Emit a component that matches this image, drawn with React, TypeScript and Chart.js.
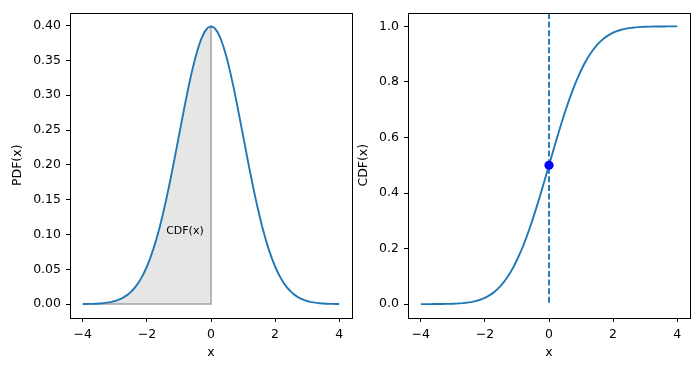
import React, { useEffect, useRef } from "react";
import { Chart, registerables } from "chart.js";

Chart.register(...registerables);

// ---- data ----
const xValues = [
  -4.0, -3.9, -3.8, -3.7, -3.6, -3.5, -3.4, -3.3, -3.2, -3.1, -3.0, -2.9, -2.8, -2.7, -2.6, -2.5, -2.4, -2.3, -2.2, -2.1,
  -2.0, -1.9, -1.8, -1.7, -1.6, -1.5, -1.4, -1.3, -1.2, -1.1, -1.0, -0.9, -0.8, -0.7, -0.6, -0.5, -0.4, -0.3, -0.2, -0.1,
  0.0, 0.1, 0.2, 0.3, 0.4, 0.5, 0.6, 0.7, 0.8, 0.9, 1.0, 1.1, 1.2, 1.3, 1.4, 1.5, 1.6, 1.7, 1.8, 1.9,
  2.0, 2.1, 2.2, 2.3, 2.4, 2.5, 2.6, 2.7, 2.8, 2.9, 3.0, 3.1, 3.2, 3.3, 3.4, 3.5, 3.6, 3.7, 3.8, 3.9, 4.0,
];
const pdfValues = [
  0.0001, 0.0002, 0.0003, 0.0004, 0.0006, 0.0009, 0.0012, 0.0017, 0.0024, 0.0033, 0.0044, 0.006, 0.0079, 0.0104, 0.0136,
  0.0175, 0.0224, 0.0283, 0.0355, 0.044, 0.054, 0.0656, 0.079, 0.094, 0.1109, 0.1295, 0.1497, 0.1714, 0.1942, 0.2179,
  0.242, 0.2661, 0.2897, 0.3123, 0.3332, 0.3521, 0.3683, 0.3814, 0.391, 0.397, 0.3989, 0.397, 0.391, 0.3814, 0.3683,
  0.3521, 0.3332, 0.3123, 0.2897, 0.2661, 0.242, 0.2179, 0.1942, 0.1714, 0.1497, 0.1295, 0.1109, 0.094, 0.079, 0.0656,
  0.054, 0.044, 0.0355, 0.0283, 0.0224, 0.0175, 0.0136, 0.0104, 0.0079, 0.006, 0.0044, 0.0033, 0.0024, 0.0017, 0.0012,
  0.0009, 0.0006, 0.0004, 0.0003, 0.0002, 0.0001,
];
const cdfValues = [
  0.00003, 0.00005, 0.00007, 0.00011, 0.00016, 0.00023, 0.00034, 0.00048, 0.00069, 0.00097, 0.00135, 0.00187, 0.00256,
  0.00347, 0.00466, 0.00621, 0.0082, 0.01072, 0.0139, 0.01786, 0.02275, 0.02872, 0.03593, 0.04457, 0.0548, 0.06681,
  0.08076, 0.0968, 0.11507, 0.13567, 0.15866, 0.18406, 0.21186, 0.24196, 0.27425, 0.30854, 0.34458, 0.38209, 0.42074,
  0.46017, 0.5, 0.53983, 0.57926, 0.61791, 0.65542, 0.69146, 0.72575, 0.75804, 0.78814, 0.81594, 0.84134, 0.86433,
  0.88493, 0.9032, 0.91924, 0.93319, 0.9452, 0.95543, 0.96407, 0.97128, 0.97725, 0.98214, 0.9861, 0.98928, 0.9918,
  0.99379, 0.99534, 0.99653, 0.99744, 0.99813, 0.99865, 0.99903, 0.99931, 0.99952, 0.99966, 0.99977, 0.99984, 0.99989,
  0.99993, 0.99995, 0.99997,
];
const shadeEnd = 0; // shaded area from -4 to this x
const edgeX = [-4, 0, 0];
const edgeY = [0, 0, 0.3989];
const markerX = [0];
const markerY = [0.5];
const vlineX = [0, 0];
const vlineY = [0.005, 1.05];
const xTicks = [-4, -2, 0, 2, 4];
const pdfTicks = [0, 0.05, 0.1, 0.15, 0.2, 0.25, 0.3, 0.35, 0.4];
const cdfTicks = [0, 0.2, 0.4, 0.6, 0.8, 1.0];
const annotationText = "CDF(x)";
const annotationX = -1.4;
const annotationY = 0.1;

const FONT = "'DejaVu Sans', sans-serif";
const BLUE = "#1f77b4";

const zip = (xs: number[], ys: number[]) => xs.map((x, i) => ({ x, y: ys[i] }));
const fmtMinus = (s: string) => s.replace("-", "\u2212");

const framePlugin = {
  id: "frame",
  afterDraw(chart: any) {
    const { ctx, chartArea: a } = chart;
    ctx.save();
    ctx.strokeStyle = "#000";
    ctx.lineWidth = 1;
    ctx.strokeRect(Math.round(a.left) + 0.5, Math.round(a.top) + 0.5, Math.round(a.right) - Math.round(a.left), Math.round(a.bottom) - Math.round(a.top));
    ctx.restore();
  },
};

const annotationPlugin = {
  id: "annot",
  afterDatasetsDraw(chart: any, _args: any, opts: any) {
    if (!opts || !opts.text) return;
    const { ctx, scales } = chart;
    ctx.save();
    ctx.font = `11px ${FONT}`;
    ctx.fillStyle = "#000";
    ctx.textAlign = "left";
    ctx.textBaseline = "alphabetic";
    ctx.fillText(opts.text, scales.x.getPixelForValue(opts.x), scales.y.getPixelForValue(opts.y));
    ctx.restore();
  },
};

function makeScales(yMin: number, yMax: number, yTicks: number[], yDigits: number, yWidth: number, yTitle: string, yTitlePad: number) {
  const tickFont = { family: FONT, size: 12.5 };
  return {
    x: {
      type: "linear" as const,
      min: -4.4,
      max: 4.4,
      afterBuildTicks: (s: any) => {
        s.ticks = xTicks.map((v) => ({ value: v }));
      },
      afterFit: (s: any) => {
        s.height = 53;
      },
      ticks: {
        color: "#000",
        font: tickFont,
        padding: 5,
        maxRotation: 0,
        autoSkip: false,
        callback: (v: any) => fmtMinus(String(v)),
      },
      grid: { drawOnChartArea: false, drawTicks: true, tickLength: 4, color: "#000", tickColor: "#000" },
      border: { display: false },
      title: { display: true, text: "x", color: "#000", font: tickFont, padding: { top: 0, bottom: 10.5 } },
    },
    y: {
      type: "linear" as const,
      min: yMin,
      max: yMax,
      afterBuildTicks: (s: any) => {
        s.ticks = yTicks.map((v) => ({ value: v }));
      },
      afterFit: (s: any) => {
        s.width = yWidth;
      },
      ticks: {
        color: "#000",
        font: tickFont,
        padding: 5,
        autoSkip: false,
        callback: (v: any) => Number(v).toFixed(yDigits),
      },
      grid: { drawOnChartArea: false, drawTicks: true, tickLength: 4, color: "#000", tickColor: "#000" },
      border: { display: false },
      title: { display: true, text: yTitle, color: "#000", font: tickFont, padding: { top: yTitlePad, bottom: 0 } },
    },
  };
}

export default function App() {
  const leftRef = useRef<HTMLCanvasElement>(null);
  const rightRef = useRef<HTMLCanvasElement>(null);

  useEffect(() => {
    const curve = zip(xValues, pdfValues);
    const shade = curve.filter((p) => p.x <= shadeEnd);
    const left = new Chart(leftRef.current!, {
      type: "scatter",
      data: {
        datasets: [
          {
            data: curve,
            showLine: true,
            borderColor: BLUE,
            borderWidth: 1.9,
            pointRadius: 0,
            tension: 0,
          },
          {
            data: zip(edgeX, edgeY),
            showLine: true,
            borderColor: "#a3a3a3",
            borderWidth: 1.5,
            pointRadius: 0,
          },
          {
            data: shade,
            showLine: true,
            borderWidth: 0,
            borderColor: "rgba(0,0,0,0)",
            backgroundColor: "rgba(128,128,128,0.2)",
            fill: "origin",
            pointRadius: 0,
          },
        ],
      },
      options: {
        responsive: false,
        animation: false,
        devicePixelRatio: 1,
        layout: { padding: { top: 10, right: 4, left: 0, bottom: 0 } },
        plugins: {
          legend: { display: false },
          tooltip: { enabled: false },
          annot: { text: annotationText, x: annotationX, y: annotationY },
        } as any,
        scales: makeScales(-0.01995, 0.4188, pdfTicks, 2, 70, "PDF(x)", 10),
      },
      plugins: [framePlugin, annotationPlugin],
    });

    const right = new Chart(rightRef.current!, {
      type: "scatter",
      data: {
        datasets: [
          {
            data: zip(markerX, markerY),
            showLine: false,
            pointRadius: 4.6,
            pointBackgroundColor: "#0000ff",
            pointBorderColor: "#0000ff",
            pointBorderWidth: 0,
          },
          {
            data: zip(vlineX, vlineY),
            showLine: true,
            borderColor: BLUE,
            borderWidth: 1.9,
            borderDash: [6, 2.6],
            pointRadius: 0,
          },
          {
            data: zip(xValues, cdfValues),
            showLine: true,
            borderColor: BLUE,
            borderWidth: 1.9,
            pointRadius: 0,
            tension: 0,
          },
        ],
      },
      options: {
        responsive: false,
        animation: false,
        devicePixelRatio: 1,
        layout: { padding: { top: 10, right: 10, left: 0, bottom: 0 } },
        plugins: {
          legend: { display: false },
          tooltip: { enabled: false },
        },
        scales: makeScales(-0.05, 1.05, cdfTicks, 1, 54, "CDF(x)", 2),
      },
      plugins: [framePlugin],
    });

    return () => {
      left.destroy();
      right.destroy();
    };
  }, []);

  return (
    <div style={{ position: "absolute", left: 0, top: 0, width: 700, height: 371, background: "#fff", overflow: "hidden" }}>
      <canvas ref={leftRef} width={356} height={371} style={{ position: "absolute", left: 0, top: 0, width: 356, height: 371 }} />
      <canvas ref={rightRef} width={346} height={371} style={{ position: "absolute", left: 354, top: 0, width: 346, height: 371 }} />
    </div>
  );
}
